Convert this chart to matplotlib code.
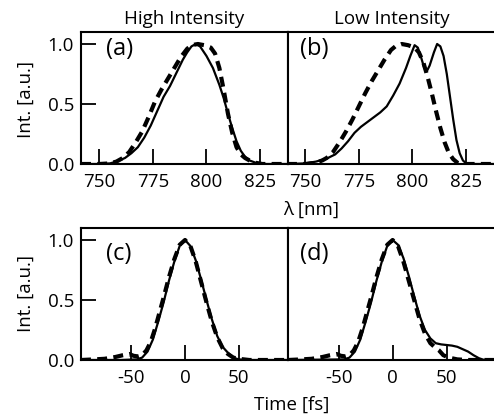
import matplotlib
matplotlib.use("Agg")
import matplotlib.pyplot as plt

plt.rcParams['font.family'] = ['Open Sans', 'DejaVu Sans']

# ---- data ----
wl_a_solid = [741.5, 750, 755, 758, 762, 765, 768, 771, 774, 777, 780, 783, 786, 789, 791, 793, 795, 797, 800, 803, 806, 808, 810, 812, 814, 816, 818, 820, 823, 826, 838]
int_a_solid = [0, 0, 0.005, 0.02, 0.05, 0.09, 0.14, 0.22, 0.32, 0.44, 0.56, 0.65, 0.76, 0.87, 0.93, 0.98, 1.0, 0.98, 0.9, 0.8, 0.66, 0.55, 0.42, 0.3, 0.19, 0.11, 0.06, 0.03, 0.01, 0, 0]
wl_a_dash = [741.5, 750, 755, 758, 761, 764, 767, 770, 773, 776, 779, 782, 785, 788, 791, 793, 796, 799, 802, 804, 806, 808, 810, 812, 814, 816, 818, 820, 823, 826, 838]
int_a_dash = [0, 0, 0.005, 0.02, 0.05, 0.1, 0.18, 0.27, 0.39, 0.52, 0.62, 0.71, 0.8, 0.89, 0.96, 0.99, 1.0, 0.99, 0.97, 0.92, 0.8, 0.62, 0.42, 0.26, 0.14, 0.08, 0.05, 0.03, 0.01, 0, 0]

wl_b_solid = [741.5, 750, 755, 760, 764, 767, 770, 773, 776, 779, 782, 785, 788, 791, 794, 797, 799, 801, 802.5, 804, 805.5, 806.6, 808, 810, 811.5, 813, 814.5, 816, 817.5, 819, 820.5, 822, 823.5, 825, 827, 838]
int_b_solid = [0, 0.005, 0.02, 0.045, 0.08, 0.13, 0.19, 0.26, 0.31, 0.35, 0.39, 0.43, 0.48, 0.57, 0.67, 0.8, 0.9, 0.99, 0.97, 0.89, 0.8, 0.77, 0.82, 0.93, 1.0, 0.98, 0.9, 0.75, 0.56, 0.37, 0.2, 0.09, 0.03, 0.005, 0, 0]
wl_b_dash = [741.5, 750, 755, 758, 760, 763, 766, 769, 772, 775, 778, 781, 784, 787, 790, 792, 795, 798, 801, 803, 805, 807, 809, 811, 813, 815, 817, 819, 821, 823, 838]
int_b_dash = [0, 0, 0.01, 0.03, 0.05, 0.1, 0.18, 0.27, 0.37, 0.48, 0.59, 0.69, 0.78, 0.87, 0.95, 0.98, 1.0, 0.99, 0.97, 0.93, 0.85, 0.73, 0.59, 0.44, 0.3, 0.18, 0.09, 0.04, 0.01, 0, 0]

t_c_solid = [-97, -60, -45, -40, -35, -30, -25, -20, -15, -10, -5, 0, 5, 10, 15, 20, 25, 30, 35, 40, 45, 50, 60, 96]
int_c_solid = [0, 0, 0.005, 0.02, 0.07, 0.17, 0.32, 0.48, 0.66, 0.82, 0.95, 1.0, 0.95, 0.83, 0.67, 0.5, 0.34, 0.2, 0.11, 0.06, 0.02, 0.005, 0, 0]
t_c_dash = [-97, -85, -75, -65, -58, -52, -48, -44, -40, -36, -32, -28, -24, -20, -15, -10, -5, 0, 5, 10, 15, 20, 25, 30, 35, 40, 45, 50, 60, 96]
int_c_dash = [0, 0.005, 0.01, 0.025, 0.04, 0.05, 0.035, 0.03, 0.04, 0.08, 0.15, 0.26, 0.39, 0.52, 0.69, 0.84, 0.96, 1.0, 0.95, 0.82, 0.65, 0.48, 0.32, 0.19, 0.1, 0.05, 0.02, 0.01, 0, 0]

t_d_solid = [-97, -45, -40, -35, -30, -25, -20, -15, -10, -5, 0, 5, 10, 15, 20, 25, 30, 35, 40, 45, 50, 55, 60, 65, 70, 75, 80, 85, 94]
int_d_solid = [0, 0.005, 0.02, 0.07, 0.17, 0.32, 0.48, 0.66, 0.82, 0.95, 1.0, 0.96, 0.85, 0.7, 0.53, 0.37, 0.25, 0.18, 0.14, 0.13, 0.125, 0.12, 0.11, 0.09, 0.07, 0.04, 0.015, 0, 0]
t_d_dash = [-97, -85, -75, -65, -58, -52, -48, -44, -40, -36, -32, -28, -24, -20, -15, -10, -5, 0, 5, 10, 15, 20, 25, 30, 35, 40, 43, 47, 52, 60, 70, 94]
int_d_dash = [0, 0.005, 0.01, 0.025, 0.04, 0.05, 0.035, 0.03, 0.04, 0.08, 0.15, 0.26, 0.39, 0.52, 0.69, 0.84, 0.96, 1.0, 0.95, 0.82, 0.66, 0.5, 0.34, 0.22, 0.14, 0.1, 0.08, 0.04, 0.02, 0.005, 0, 0]

wl_ticks = [750, 775, 800, 825]
wl_ticklabels = ['750', '775', '800', '825']
t_ticks = [-50, 0, 50]
t_ticklabels = ['-50', '0', '50']
y_ticks = [0.0, 0.5, 1.0]
y_ticklabels = ['0.0', '0.5', '1.0']

W, H = 494, 420
fig = plt.figure(figsize=(W / 100, H / 100), dpi=100)

def rect(x0, y0, x1, y1):
    return [x0 / W, 1 - y1 / H, (x1 - x0) / W, (y1 - y0) / H]

ax_a = fig.add_axes(rect(81, 32, 288, 164))
ax_b = fig.add_axes(rect(288, 32, 494, 164))
ax_c = fig.add_axes(rect(81, 228, 288, 360))
ax_d = fig.add_axes(rect(288, 228, 494, 360))

FS = 13.5
solid_kw = dict(color='black', lw=1.6, solid_capstyle='butt')
dash_kw = dict(color='black', lw=3.0, dashes=(2.4, 1.5))

def style(ax, xlim, xticks, xlabels, left):
    ax.set_xlim(*xlim)
    ax.set_ylim(0, 1.1)
    for s in ax.spines.values():
        s.set_linewidth(1.5)
    ax.set_xticks(xticks)
    ax.set_xticklabels(xlabels)
    ax.tick_params(axis='x', direction='in', length=11, width=1.3, labelsize=FS, pad=6.5)
    if left:
        ax.set_yticks(y_ticks)
        ax.set_yticklabels(y_ticklabels)
        ax.tick_params(axis='y', direction='in', length=11, width=1.3, labelsize=FS, pad=5)
    else:
        ax.set_yticks([])
        ax.spines['right'].set_visible(False)

ax_a.plot(wl_a_dash, int_a_dash, **dash_kw)
ax_a.plot(wl_a_solid, int_a_solid, **solid_kw)
ax_b.plot(wl_b_dash, int_b_dash, **dash_kw)
ax_b.plot(wl_b_solid, int_b_solid, **solid_kw)
ax_c.plot(t_c_dash, int_c_dash, **dash_kw)
ax_c.plot(t_c_solid, int_c_solid, **solid_kw)
ax_d.plot(t_d_dash, int_d_dash, **dash_kw)
ax_d.plot(t_d_solid, int_d_solid, **solid_kw)

style(ax_a, (741.5, 838), wl_ticks, wl_ticklabels, True)
style(ax_b, (742, 838), wl_ticks, wl_ticklabels, False)
style(ax_c, (-97, 96), t_ticks, t_ticklabels, True)
style(ax_d, (-97, 94), t_ticks, t_ticklabels, False)

PL = 17
ax_a.text(0.12, 0.965, '(a)', transform=ax_a.transAxes, fontsize=PL, va='top', ha='left')
ax_b.text(0.058, 0.965, '(b)', transform=ax_b.transAxes, fontsize=PL, va='top', ha='left')
ax_c.text(0.12, 0.895, '(c)', transform=ax_c.transAxes, fontsize=PL, va='top', ha='left')
ax_d.text(0.058, 0.895, '(d)', transform=ax_d.transAxes, fontsize=PL, va='top', ha='left')

fig.text(184 / W, 1 - 19 / H, 'High Intensity', fontsize=FS, ha='center', va='center')
fig.text(392 / W, 1 - 19 / H, 'Low Intensity', fontsize=FS, ha='center', va='center')
fig.text(26 / W, 1 - 100 / H, 'Int. [a.u.]', fontsize=FS, rotation=90, ha='center', va='center')
fig.text(26 / W, 1 - 294 / H, 'Int. [a.u.]', fontsize=FS, rotation=90, ha='center', va='center')
fig.text(311 / W, 1 - 210 / H, 'λ [nm]', fontsize=FS, ha='center', va='center')
fig.text(292 / W, 1 - 405 / H, 'Time [fs]', fontsize=FS, ha='center', va='center')

fig.savefig('out.png', dpi=100)
